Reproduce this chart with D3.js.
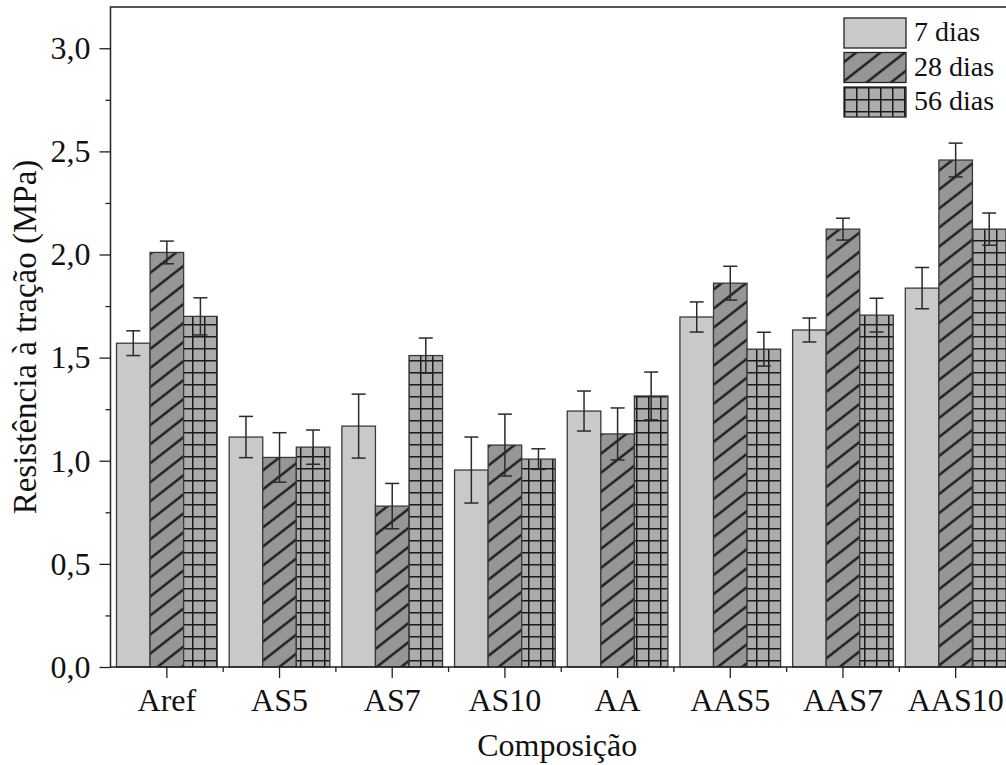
<!DOCTYPE html>
<html>
<head>
<meta charset="utf-8">
<script src="https://cdn.jsdelivr.net/npm/d3@7"></script>
<style>
  body { margin: 0; background: #fff; }
  text { font-family: "Liberation Serif", serif; }
</style>
</head>
<body>
<div id="chart"></div>
<script>
// DATA
var categories = ["Aref", "AS5", "AS7", "AS10", "AA", "AAS5", "AAS7", "AAS10"];
var seriesNames = ["7 dias", "28 dias", "56 dias"];
var dias7 = [1.57, 1.115, 1.168, 0.955, 1.241, 1.697, 1.634, 1.837];
var dias28 = [2.01, 1.016, 0.78, 1.076, 1.13, 1.861, 2.123, 2.458];
var dias56 = [1.70, 1.066, 1.51, 1.008, 1.314, 1.541, 1.706, 2.123];
var err7 = [0.06, 0.10, 0.155, 0.16, 0.097, 0.073, 0.058, 0.10];
var err28 = [0.055, 0.12, 0.11, 0.15, 0.126, 0.082, 0.053, 0.082];
var err56 = [0.09, 0.083, 0.085, 0.05, 0.116, 0.082, 0.082, 0.078];
var yTicks = [0, 0.5, 1.0, 1.5, 2.0, 2.5, 3.0];

var values = [dias7, dias28, dias56];
var errors = [err7, err28, err56];

var width = 1006, height = 765;
var margins = { left: 110.5, top: 7, bottom: 98 };
var plotRight = 1012;
var plotBottom = height - margins.bottom;
var FONT = "Liberation Serif";

var svg = d3.select("#chart")
    .append("svg")
        .attr("width", width)
        .attr("height", height);

// Patterns
var defs = svg.append("defs");

var hatch = defs.append("pattern")
    .attr("id", "hatch")
    .attr("patternUnits", "userSpaceOnUse")
    .attr("width", 15)
    .attr("height", 15)
    .attr("patternTransform", "rotate(-38)");
hatch.append("rect")
    .attr("width", 15).attr("height", 15)
    .attr("fill", "#969696");
hatch.append("line")
    .attr("x1", 0).attr("y1", 7.5).attr("x2", 15).attr("y2", 7.5)
    .attr("stroke", "#111").attr("stroke-width", 2.2);

var grid = defs.append("pattern")
    .attr("id", "grid")
    .attr("patternUnits", "userSpaceOnUse")
    .attr("width", 12)
    .attr("height", 12);
grid.append("rect")
    .attr("width", 12).attr("height", 12)
    .attr("fill", "#acacac");
grid.append("path")
    .attr("d", "M0,0.75H12M0.75,0V12")
    .attr("stroke", "#1a1a1a").attr("stroke-width", 1.5)
    .attr("fill", "none");

var fills = ["#c9c9c9", "url(#hatch)", "url(#grid)"];

// Scales
var x = d3.scaleBand()
    .domain(categories)
    .range([margins.left, plotRight])
    .padding(0);

var xSub = d3.scaleBand()
    .domain(d3.range(3))
    .range([6, x.bandwidth() - 6]);

var y = d3.scaleLinear()
    .domain([0, 3.2])
    .range([plotBottom, margins.top]);

// Bars
var plot = svg.append("g");
values.forEach(function(series, s) {
    plot.selectAll(".bar" + s)
        .data(series)
        .enter()
        .append("rect")
            .attr("x", (d, i) => x(categories[i]) + xSub(s))
            .attr("y", d => y(d))
            .attr("width", xSub.bandwidth())
            .attr("height", d => y(0) - y(d))
            .attr("fill", fills[s])
            .attr("stroke", "#3a3a3a")
            .attr("stroke-width", 1.3);
});

// Error bars
values.forEach(function(series, s) {
    var g = plot.append("g")
        .attr("stroke", "#2a2a2a")
        .attr("stroke-width", 1.5);
    series.forEach(function(v, i) {
        var cx = x(categories[i]) + xSub(s) + xSub.bandwidth() / 2;
        var e = errors[s][i];
        g.append("line")
            .attr("x1", cx).attr("x2", cx)
            .attr("y1", y(v + e)).attr("y2", y(v - e));
        g.append("line")
            .attr("x1", cx - 7).attr("x2", cx + 7)
            .attr("y1", y(v + e)).attr("y2", y(v + e));
        g.append("line")
            .attr("x1", cx - 7).attr("x2", cx + 7)
            .attr("y1", y(v - e)).attr("y2", y(v - e));
    });
});

// Y axis
var yAxis = svg.append("g")
    .attr("transform", "translate(" + margins.left + ",0)")
    .call(d3.axisLeft(y)
        .tickValues(yTicks)
        .tickSize(11)
        .tickPadding(9)
        .tickFormat(d => d3.format(".1f")(d).replace(".", ",")));
yAxis.select(".domain").remove();
yAxis.selectAll("text")
    .style("font-size", "32px")
    .style("font-family", FONT)
    .attr("fill", "#111");
yAxis.selectAll("line").attr("stroke", "#222").attr("stroke-width", 1.3);

svg.append("g")
    .attr("transform", "translate(" + margins.left + ",0)")
    .call(d3.axisLeft(y)
        .tickValues(d3.range(0.25, 3.2, 0.5))
        .tickSize(5)
        .tickFormat(""))
    .call(g => g.select(".domain").remove())
    .selectAll("line").attr("stroke", "#222").attr("stroke-width", 1.3);

// X axis
var xAxis = svg.append("g")
    .attr("transform", "translate(0," + plotBottom + ")")
    .call(d3.axisBottom(x).tickSize(11).tickPadding(10));
xAxis.select(".domain").remove();
xAxis.selectAll("text")
    .style("font-size", "32px")
    .style("font-family", FONT)
    .attr("fill", "#111");
xAxis.selectAll("line").attr("stroke", "#222").attr("stroke-width", 1.3);

svg.append("g")
    .selectAll("line")
    .data(categories.slice(1))
    .enter()
    .append("line")
        .attr("x1", d => x(d)).attr("x2", d => x(d))
        .attr("y1", plotBottom).attr("y2", plotBottom + 5)
        .attr("stroke", "#222").attr("stroke-width", 1.3);

// Frame
svg.append("path")
    .attr("d", "M" + plotRight + "," + margins.top + "H" + margins.left +
        "V" + plotBottom + "H" + plotRight)
    .attr("fill", "none")
    .attr("stroke", "#222")
    .attr("stroke-width", 1.5);

// Axis titles
svg.append("text")
    .attr("x", (margins.left + plotRight) / 2 - 4)
    .attr("y", 756)
    .attr("text-anchor", "middle")
    .style("font-size", "32px")
    .style("font-family", FONT)
    .attr("fill", "#111")
    .text("Composição");

svg.append("text")
    .attr("transform", "translate(36," + (plotBottom + margins.top) / 2 + ") rotate(-90)")
    .attr("text-anchor", "middle")
    .style("font-size", "33px")
    .style("font-family", FONT)
    .attr("fill", "#111")
    .text("Resistência à tração (MPa)");

// Legend
var legend = svg.append("g")
    .attr("transform", "translate(844,18)");
seriesNames.forEach(function(name, s) {
    var row = legend.append("g")
        .attr("transform", "translate(0," + s * 34.5 + ")");
    row.append("rect")
        .attr("width", 62).attr("height", 30)
        .attr("fill", fills[s])
        .attr("stroke", "#222").attr("stroke-width", 1.3);
    row.append("text")
        .attr("x", 70).attr("y", 23)
        .style("font-size", "28px")
        .style("font-family", FONT)
        .attr("fill", "#111")
        .text(name);
});
</script>
</body>
</html>
